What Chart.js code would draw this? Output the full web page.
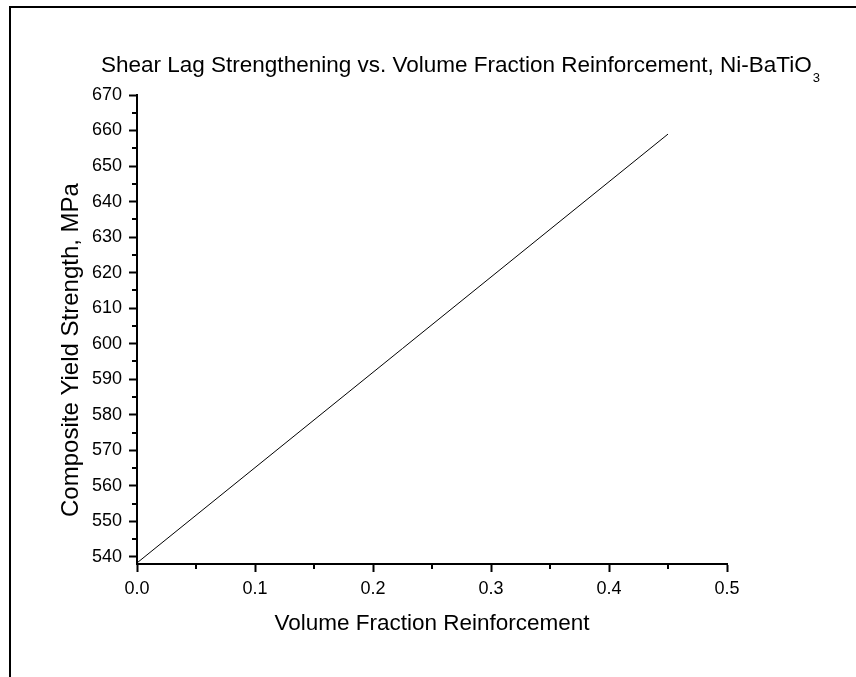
<!DOCTYPE html>
<html>
<head>
<meta charset="utf-8">
<script src="https://cdn.jsdelivr.net/npm/chart.js@4"></script>
<style>
  html, body { margin: 0; padding: 0; background: #fff; }
  #wrap { width: 856px; height: 677px; }
</style>
</head>
<body>
<div id="wrap"><canvas id="chart"></canvas></div>
<script>
const volumeFraction = [0.0, 0.45]
const yieldStrength = [538.3, 659]

const xMajorTicks = [0.0, 0.1, 0.2, 0.3, 0.4, 0.5]
const xMinorTicks = [0.05, 0.15, 0.25, 0.35, 0.45]
const yMajorTicks = [540, 550, 560, 570, 580, 590, 600, 610, 620, 630, 640, 650, 660, 670]
const yMinorTicks = [545, 555, 565, 575, 585, 595, 605, 615, 625, 635, 645, 655, 665]

const chartTitle = 'Shear Lag Strengthening vs. Volume Fraction Reinforcement, Ni-BaTiO'
const chartTitleSub = '3'
const xTitle = 'Volume Fraction Reinforcement'
const yTitle = 'Composite Yield Strength, MPa'

const fontFamily = '"Liberation Sans", Arial, sans-serif'

const decorations = {
  id: 'decorations',
  afterDraw(chart) {
    const { ctx, scales } = chart
    ctx.save()
    ctx.fillStyle = '#000'
    ctx.strokeStyle = '#000'

    // frame
    ctx.lineWidth = 2
    ctx.beginPath()
    ctx.moveTo(10, 677)
    ctx.lineTo(10, 7)
    ctx.lineTo(856, 7)
    ctx.stroke()

    // minor ticks
    ctx.lineWidth = 2
    ctx.beginPath()
    for (const v of xMinorTicks) {
      const x = Math.round(scales.x.getPixelForValue(v))
      ctx.moveTo(x, scales.x.top)
      ctx.lineTo(x, scales.x.top + 5)
    }
    for (const v of yMinorTicks) {
      const y = Math.round(scales.y.getPixelForValue(v))
      ctx.moveTo(scales.y.right, y)
      ctx.lineTo(scales.y.right - 5, y)
    }
    ctx.stroke()

    // title with subscript
    ctx.font = `22.5px ${fontFamily}`
    ctx.textAlign = 'left'
    ctx.textBaseline = 'alphabetic'
    ctx.fillText(chartTitle, 101, 72)
    const w = ctx.measureText(chartTitle).width
    ctx.font = `13px ${fontFamily}`
    ctx.fillText(chartTitleSub, 101 + w + 1, 82)

    // axis titles
    ctx.font = `22.5px ${fontFamily}`
    ctx.textAlign = 'center'
    ctx.fillText(xTitle, 432, 630)

    ctx.font = `24px ${fontFamily}`
    ctx.translate(78, 350)
    ctx.rotate(-Math.PI / 2)
    ctx.fillText(yTitle, 0, 0)
    ctx.restore()
  },
}

const axisGrid = {
  display: true,
  drawOnChartArea: false,
  drawTicks: true,
  tickLength: 8,
  tickWidth: 2,
  tickColor: '#000',
}

new Chart(document.getElementById('chart'), {
  type: 'scatter',
  data: {
    datasets: [{
      data: volumeFraction.map((x, i) => ({ x, y: yieldStrength[i] })),
      showLine: true,
      borderColor: '#000',
      borderWidth: 1,
      pointRadius: 0,
    }],
  },
  options: {
    responsive: true,
    maintainAspectRatio: false,
    animation: false,
    layout: { padding: { left: 0, right: 129, top: 95, bottom: 0 } },
    plugins: {
      legend: { display: false },
      tooltip: { enabled: false },
    },
    scales: {
      x: {
        type: 'linear',
        min: 0,
        max: 0.5,
        afterBuildTicks: (scale) => { scale.ticks = xMajorTicks.map(value => ({ value })) },
        afterFit: (scale) => { scale.height = 113 },
        grid: axisGrid,
        border: { display: true, width: 2, color: '#000' },
        ticks: {
          color: '#000',
          font: { family: fontFamily, size: 18 },
          padding: 6,
          maxRotation: 0,
          callback: (value) => Number(value).toFixed(1),
        },
      },
      y: {
        type: 'linear',
        min: 538,
        max: 670,
        afterBuildTicks: (scale) => { scale.ticks = yMajorTicks.map(value => ({ value })) },
        afterFit: (scale) => { scale.width = 137 },
        grid: axisGrid,
        border: { display: true, width: 2, color: '#000' },
        ticks: {
          color: '#000',
          font: { family: fontFamily, size: 18 },
          padding: 7,
          callback: (value) => String(value),
        },
      },
    },
  },
  plugins: [decorations],
})
</script>
</body>
</html>
